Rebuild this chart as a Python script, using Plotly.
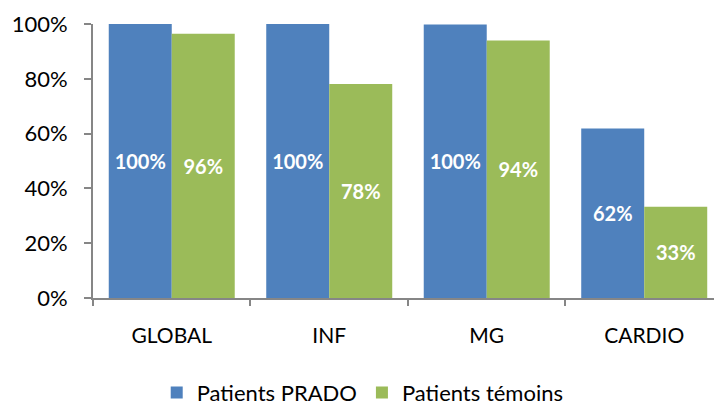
import plotly.graph_objects as go

categories = ["GLOBAL", "INF", "MG", "CARDIO"]
prado = [1.00, 1.00, 0.998, 0.619]
temoins = [0.964, 0.781, 0.940, 0.333]
y_ticks = [0, 0.2, 0.4, 0.6, 0.8, 1.0]

BLUE = "#4F81BD"
GREEN = "#9BBB59"
AXIS = "#868686"
FONT = "Lato, Open Sans, sans-serif"

fig = go.Figure()
for name, vals, color in [("Patients PRADO", prado, BLUE), ("Patients témoins", temoins, GREEN)]:
    fig.add_trace(go.Bar(
        x=categories, y=vals, name=name,
        marker=dict(color=color, line=dict(width=0)),
        text=vals, texttemplate="%{y:.0%}",
        textposition="inside", insidetextanchor="middle",
        textfont=dict(color="white", size=20, family=FONT, weight="bold"),
        textangle=0,
    ))

fig.update_layout(
    width=714, height=407,
    margin=dict(l=93, r=0, t=24, b=109, autoexpand=False),
    paper_bgcolor="white", plot_bgcolor="white",
    barmode="group", bargap=0.2, bargroupgap=0,
    font=dict(family=FONT, color="black"),
    showlegend=True,
    legend=dict(
        orientation="h", xref="container", x=0.508, xanchor="center",
        yref="container", y=0.035, yanchor="middle",
        font=dict(size=22, family=FONT), itemwidth=30, traceorder="normal",
    ),
    xaxis=dict(
        range=[-0.5, 3.443], showline=True, linecolor=AXIS, linewidth=2,
        ticks="outside", tickson="boundaries", ticklen=6, tickcolor=AXIS, tickwidth=2,
        tickfont=dict(size=21, family=FONT), ticklabelstandoff=18, showgrid=False,
        automargin=False,
    ),
    yaxis=dict(
        range=[0, 1.0], tickvals=y_ticks, tickformat=".0%",
        showline=True, linecolor=AXIS, linewidth=2,
        ticks="outside", ticklen=7, tickcolor=AXIS, tickwidth=2,
        tickfont=dict(size=22, family=FONT), showgrid=False, zeroline=False,
        ticklabelstandoff=12, automargin=False,
    ),
)
fig.update_traces(cliponaxis=False)

fig.write_html("out.html")
